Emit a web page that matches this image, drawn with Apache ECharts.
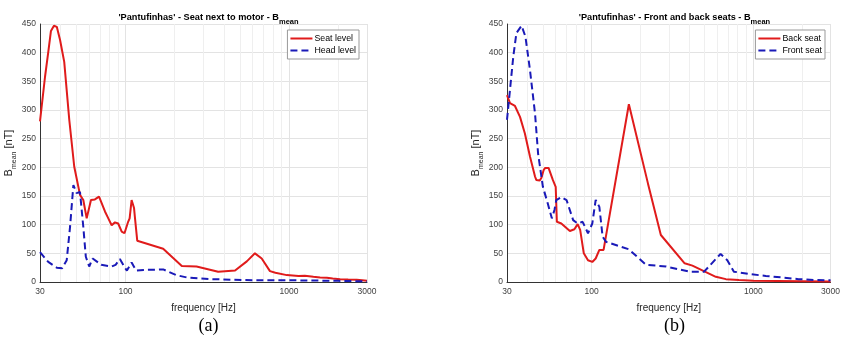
<!DOCTYPE html>
<html><head><meta charset="utf-8">
<script src="https://cdn.jsdelivr.net/npm/echarts@6/dist/echarts.min.js"></script>
<style>html,body{margin:0;padding:0;background:#fff}#c{width:843px;height:341px}</style>
</head><body><div id="c"></div>
<script>
// ---- data (a) Seat next to motor ----
const seatF = [30, 32.2, 33.7, 35, 36.5, 38, 39.8, 42.2, 45.3, 48.6, 52.7, 55.2, 57.9, 59.5, 61.5, 65, 68.9, 70.5, 74.9, 78.5, 82.3, 86.2, 90.2, 94.8, 98.6, 103.8, 106, 109, 112.8, 114, 118, 170, 221, 272, 369, 468, 552, 619, 681, 765, 826, 969, 1144, 1250, 1410, 1550, 1705, 1850, 2055, 2300, 2595, 2800, 3000];
const seatV = [280, 358, 401, 438, 447, 445, 422, 384, 283, 201, 152, 143, 111, 111, 143, 144, 149, 147, 123, 111, 99, 104, 102, 88, 85, 105, 111, 143, 129, 115, 72, 58, 28, 27, 18, 20, 36, 50, 41, 19, 16, 12, 10.5, 11, 9, 8, 7.5, 6, 5, 4.5, 4, 3, 2];
const headF = [30, 33.7, 38, 41, 43.7, 45.8, 48, 50.2, 52.7, 55.2, 57.2, 60, 63, 71, 82.3, 87, 92.4, 99.6, 102, 109, 116, 129, 170, 204, 241, 329, 458, 620, 1000, 2000, 3000];
const headV = [52, 35, 25, 24, 38, 96, 169, 155, 157, 96, 44, 27, 41, 30, 27, 30, 40, 24, 20, 34, 20, 21, 22, 12, 7.5, 5, 4, 3, 3, 2, 1];
// ---- data (b) Front and back seats ----
const backF = [30, 31.3, 33.6, 36.1, 38.7, 41.6, 44.7, 45.5, 46.7, 47.8, 49, 50.5, 51.7, 53, 54.2, 57.6, 60, 61, 65, 73.4, 78.3, 82, 85, 89.5, 95, 101, 106, 111.7, 118.6, 170, 223, 268, 376, 420, 586, 676, 815, 1000, 2000, 3000];
const backV = [326, 312, 307, 288, 259, 219, 184, 178, 176, 177, 182, 195, 199, 200, 199, 178, 166, 105, 102, 89, 92, 101, 91, 50, 38, 35, 41, 56, 56, 310, 172, 82, 32.6, 28.5, 9, 5, 3.5, 2, 1.5, 1];
const frontF = [30, 31.3, 32.8, 34.3, 36.9, 39, 41.6, 44.7, 46.7, 50, 53.6, 56.8, 59, 60.5, 65, 70, 76.9, 82, 88, 95, 101, 106, 111.7, 117, 123, 170, 217, 289, 405, 496, 627, 690, 758, 939, 1194, 1508, 1900, 2400, 3000];
const frontV = [283, 335, 393, 434, 447, 428, 370, 294, 224, 166, 137, 111, 126, 143, 148, 143, 108, 102, 105, 85, 102, 143, 131, 79, 70, 57, 30, 27, 18, 18, 49, 38, 18, 14, 10.5, 8, 5, 3.5, 3];
// ---- axes ----
const xMin = 30, xMax = 3000;
const yMin = 0, yMax = 450, yStep = 50;
const minorGridF = [40, 50, 60, 70, 80, 90, 200, 300, 400, 500, 600, 700, 800, 900, 2000];
const titles = ["'Pantufinhas' - Seat next to motor - ", "'Pantufinhas' - Front and back seats - "];
const legendNames = [["Seat level", "Head level"], ["Back seat", "Front seat"]];
const panelLabels = ["(a)", "(b)"];

const RED = '#e01b1b', BLUE = '#1a1ab8';
const FONT = 'Liberation Sans';
const zip = (f, v) => f.map((x, i) => [x, v[i]]);

const grids = [
  {left: 40, right: 476, top: 24, bottom: 59},
  {left: 507, right: 11, top: 24, bottom: 59}
];
const centers = [203.5, 669.5];

function xAxis(i) {
  return {
    type: 'log', gridIndex: i, min: xMin, max: xMax, logBase: 10,
    name: 'frequency [Hz]', nameLocation: 'middle', nameGap: 21,
    nameTextStyle: {fontFamily: FONT, fontSize: 10, color: '#262626'},
    axisLine: {show: true, lineStyle: {color: '#333', width: 1}},
    axisTick: {show: false},
    axisLabel: {fontFamily: FONT, fontSize: 8.5, color: '#404040', margin: 5,
      formatter: v => String(Math.round(v))},
    splitLine: {show: true, lineStyle: {color: '#e3e3e3', width: 1}},
    minorTick: {show: false}, minorSplitLine: {show: false}
  };
}
function yAxis(i) {
  return {
    type: 'value', gridIndex: i, min: yMin, max: yMax, interval: yStep,
    name: '{a|B}{s|mean}{a| [nT]}', nameLocation: 'middle', nameGap: 16, nameRotate: 90,
    nameTextStyle: {fontFamily: FONT, fontSize: 11, color: '#262626',
      rich: {a: {fontFamily: FONT, fontSize: 11, color: '#262626', verticalAlign: 'top', lineHeight: 13},
             s: {fontFamily: FONT, fontSize: 7, color: '#262626', verticalAlign: 'top', padding: [7, 0, 0, 0]}}},
    axisLine: {show: true, lineStyle: {color: '#333', width: 1}},
    axisTick: {show: false},
    axisLabel: {fontFamily: FONT, fontSize: 8.5, color: '#404040', margin: 4},
    splitLine: {show: true, lineStyle: {color: '#e3e3e3', width: 1}}
  };
}
function line(name, i, f, v, color, dashed) {
  return {
    name, type: 'line', xAxisIndex: i, yAxisIndex: i, data: zip(f, v),
    symbol: 'none', smooth: false, z: 3,
    lineStyle: {color, width: 2, type: dashed ? [7, 4] : 'solid'},
    itemStyle: {color}
  };
}
function minorGrid(i) {
  return {
    type: 'line', xAxisIndex: i, yAxisIndex: i, data: [], silent: true, z: 1,
    markLine: {silent: true, z: 1, symbol: 'none', label: {show: false},
      lineStyle: {color: '#efefef', width: 1, type: 'solid'},
      emphasis: {disabled: true},
      data: minorGridF.map(x => ({xAxis: x}))}
  };
}

const option = {
  animation: false,
  backgroundColor: '#fff',
  title: [0, 1].map(i => ({
    text: '{a|' + titles[i] + 'B}{s|mean}', left: centers[i], top: 8, textAlign: 'center',
    textStyle: {fontFamily: FONT, fontSize: 9.2, fontWeight: 'bold', color: '#000',
      rich: {a: {fontFamily: FONT, fontSize: 9.2, fontWeight: 'bold', color: '#000', verticalAlign: 'top', lineHeight: 11},
             s: {fontFamily: FONT, fontSize: 7.5, fontWeight: 'bold', color: '#000', verticalAlign: 'top', padding: [5, 0, 0, 0]}}}
  })).concat([0, 1].map(i => ({
    text: panelLabels[i], left: centers[i], top: 312, textAlign: 'center',
    textStyle: {fontFamily: 'Liberation Serif', fontSize: 18, fontWeight: 'normal', color: '#000'}
  }))),
  legend: [
    {data: legendNames[0], right: 484, top: 30},
    {data: legendNames[1], right: 18, top: 30}
  ].map(l => Object.assign(l, {
    orient: 'vertical', itemWidth: 22, itemHeight: 8, itemGap: 3, z: 10,
    backgroundColor: '#fff', borderColor: '#999', borderWidth: 1, padding: [4, 3, 4, 2],
    itemStyle: {opacity: 0},
    textStyle: {fontFamily: FONT, fontSize: 8.8, color: '#000', padding: [0, 0, 0, -3]},
    selectedMode: false
  })),
  grid: grids,
  xAxis: [xAxis(0), xAxis(1)],
  yAxis: [yAxis(0), yAxis(1)],
  series: [
    minorGrid(0), minorGrid(1),
    line('Seat level', 0, seatF, seatV, RED, false),
    line('Head level', 0, headF, headV, BLUE, true),
    line('Back seat', 1, backF, backV, RED, false),
    line('Front seat', 1, frontF, frontV, BLUE, true)
  ]
};
const chart = echarts.init(document.getElementById('c'), null, {renderer: 'canvas'});
chart.setOption(option);
</script></body></html>
